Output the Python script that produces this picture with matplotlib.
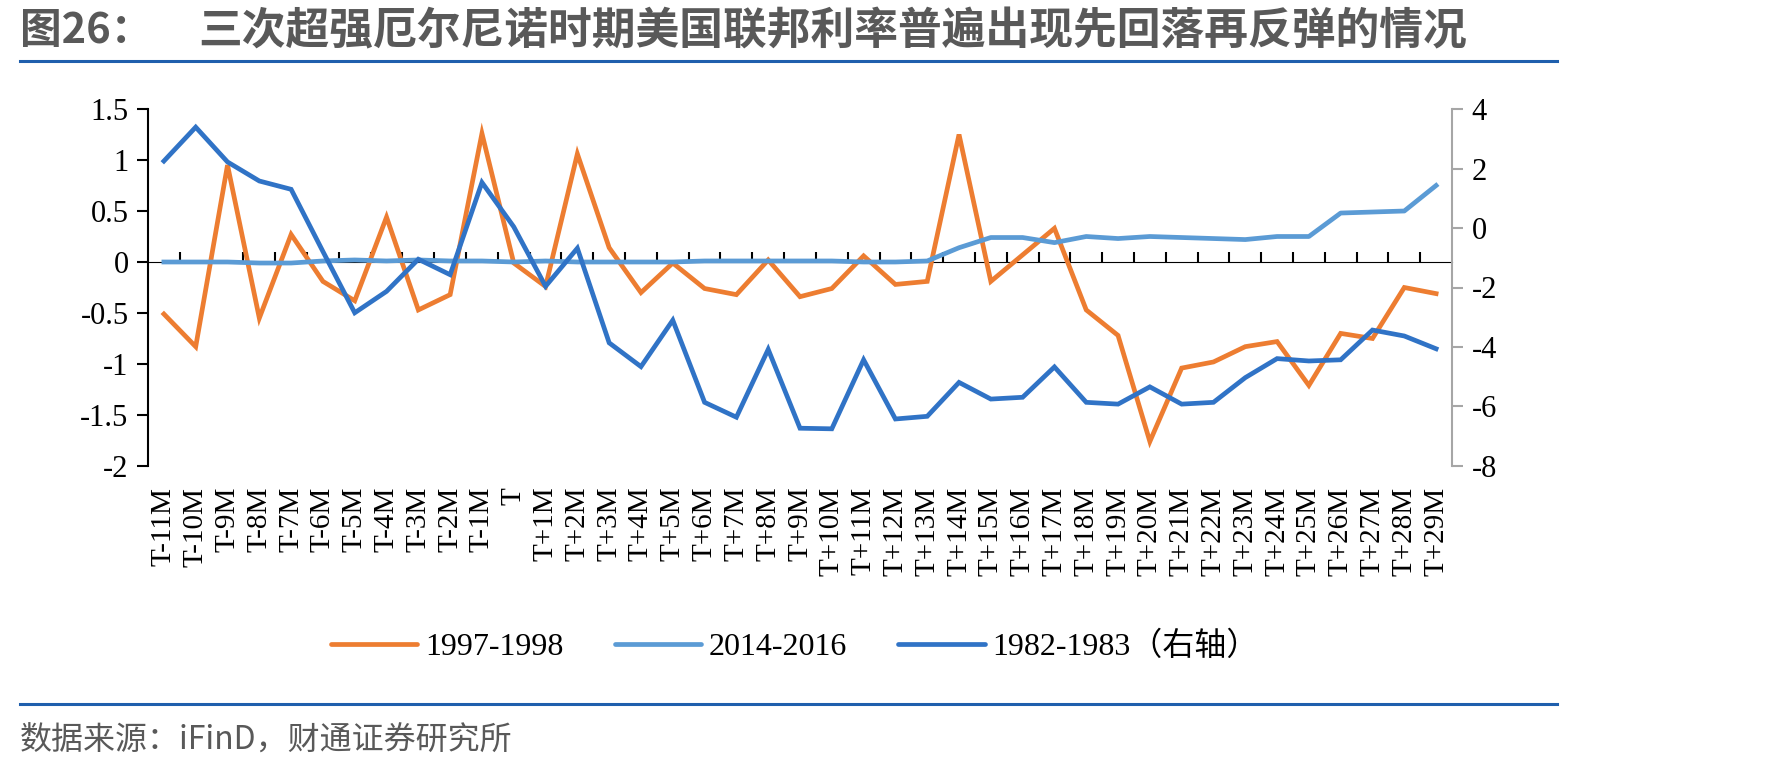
import numpy as np
import matplotlib
matplotlib.use('Agg')
import matplotlib.pyplot as plt
from matplotlib.lines import Line2D

plt.rcParams['font.family'] = ['Liberation Serif', 'Noto Sans CJK SC']

categories = (['T-%dM' % k for k in range(11, 0, -1)] + ['T'] +
              ['T+%dM' % k for k in range(1, 30)])

# 1997-1998, left axis
s_1997 = [-0.51, -0.83, 0.95, -0.55, 0.27, -0.19, -0.38, 0.44, -0.47, -0.32,
          1.26, -0.01, -0.24, 1.06, 0.14, -0.30, -0.01, -0.26, -0.32, 0.02,
          -0.34, -0.26, 0.06, -0.22, -0.19, 1.25, -0.19, 0.07, 0.33, -0.47,
          -0.72, -1.76, -1.04, -0.98, -0.83, -0.78, -1.21, -0.70, -0.75,
          -0.25, -0.31]
# 2014-2016, left axis
s_2014 = [0.0, 0.0, 0.0, -0.01, -0.01, 0.01, 0.02, 0.01, 0.02, 0.01,
          0.01, 0.0, 0.01, 0.0, 0.0, 0.0, 0.0, 0.01, 0.01, 0.01,
          0.01, 0.01, 0.0, 0.0, 0.01, 0.14, 0.24, 0.24, 0.19, 0.25,
          0.23, 0.25, 0.24, 0.23, 0.22, 0.25, 0.25, 0.48, 0.49, 0.50, 0.75]
# 1982-1983, right axis
s_1982 = [2.25, 3.39, 2.22, 1.58, 1.30, -0.79, -2.85, -2.13, -1.05, -1.57,
          1.53, 0.04, -1.96, -0.68, -3.86, -4.66, -3.10, -5.86, -6.36, -4.08,
          -6.73, -6.75, -4.43, -6.42, -6.33, -5.19, -5.75, -5.69, -4.67, -5.86,
          -5.92, -5.34, -5.92, -5.86, -5.03, -4.39, -4.47, -4.43, -3.43,
          -3.63, -4.06]

c_orange = '#ED7D31'
c_light = '#5B9BD5'
c_dark = '#3073C6'

fig = plt.figure(figsize=(17.71, 7.71), dpi=100)
ax = fig.add_axes([148 / 1771, 1 - 466 / 771, (1452 - 148) / 1771, (466 - 109) / 771])
ax2 = ax.twinx()

x = np.arange(len(categories))
lw = 3.4
ax.plot(x, s_1997, color=c_orange, lw=lw, solid_joinstyle='miter', zorder=3)
ax.plot(x, s_2014, color=c_light, lw=lw, zorder=3)
ax2.plot(x, s_1982, color=c_dark, lw=lw, solid_joinstyle='miter')

ax.set_xlim(-0.5, len(categories) - 0.5)
ax.set_ylim(-2, 1.5)
ax.set_yticks(np.arange(-2, 1.51, 0.5))
ax.set_yticklabels(['-2', '-1.5', '-1', '-0.5', '0', '0.5', '1', '1.5'])
ax2.set_ylim(-8, 4)
ax2.set_yticks(np.arange(-8, 4.1, 2))
ax2.set_yticklabels(['-8', '-6', '-4', '-2', '0', '2', '4'])

for a in (ax, ax2):
    a.spines['top'].set_visible(False)
    a.spines['bottom'].set_visible(False)
ax.spines['right'].set_visible(False)
ax2.spines['left'].set_visible(False)
ax.spines['left'].set_linewidth(1.5)
ax2.spines['right'].set_color('#A6A6A6')
ax2.spines['right'].set_linewidth(1.5)

ax.tick_params(axis='y', direction='out', length=8, width=1.5, labelsize=22, pad=6)
ax2.tick_params(axis='y', direction='out', length=8, width=1.5, color='#A6A6A6',
                labelsize=22, pad=6)
ax.set_xticks(x)
ax.set_xticklabels(categories, rotation=90, fontsize=21)
ax.tick_params(axis='x', length=0, pad=15)

# horizontal category axis at zero with ticks between categories
sec = ax.secondary_xaxis(2 / 3.5)
sec.set_xticks(np.arange(0.5, len(categories) - 0.5, 1))
sec.set_xticklabels([])
sec.tick_params(axis='x', direction='out', length=7, width=1.5)
sec.spines['bottom'].set_linewidth(1.5)

handles = [Line2D([], [], color=c_orange, lw=lw, solid_capstyle='round'),
           Line2D([], [], color=c_light, lw=lw, solid_capstyle='round'),
           Line2D([], [], color=c_dark, lw=lw, solid_capstyle='round')]
fig.legend(handles, ['1997-1998', '2014-2016', '1982-1983（右轴）'],
           loc='center', bbox_to_anchor=(795 / 1771, 1 - 647 / 771), ncol=3,
           frameon=False, fontsize=23, handlelength=2.7, handletextpad=0.25,
           columnspacing=1.6)

fig.text(20 / 1771, 1 - 31 / 771, '图26：',
         family=['Noto Sans CJK SC'], fontweight='bold', fontsize=30,
         color='#595959', va='center', ha='left')
fig.text(198 / 1771, 1 - 31 / 771,
         '三次超强厄尔尼诺时期美国联邦利率普遍出现先回落再反弹的情况',
         family=['Noto Sans CJK SC'], fontweight='bold', fontsize=31.5,
         color='#595959', va='center', ha='left')
fig.add_artist(Line2D([20 / 1771, 1557 / 1771], [1 - 61 / 771, 1 - 61 / 771],
                      color='#1F5FAD', lw=2.2))
fig.add_artist(Line2D([20 / 1771, 1557 / 1771], [1 - 704 / 771, 1 - 704 / 771],
                      color='#1F5FAD', lw=2.2))
fig.text(20 / 1771, 1 - 741 / 771, '数据来源：iFinD，财通证券研究所',
         family=['Noto Sans CJK SC'], fontsize=23, color='#595959',
         va='center', ha='left')

fig.savefig('out.png', dpi=100)
